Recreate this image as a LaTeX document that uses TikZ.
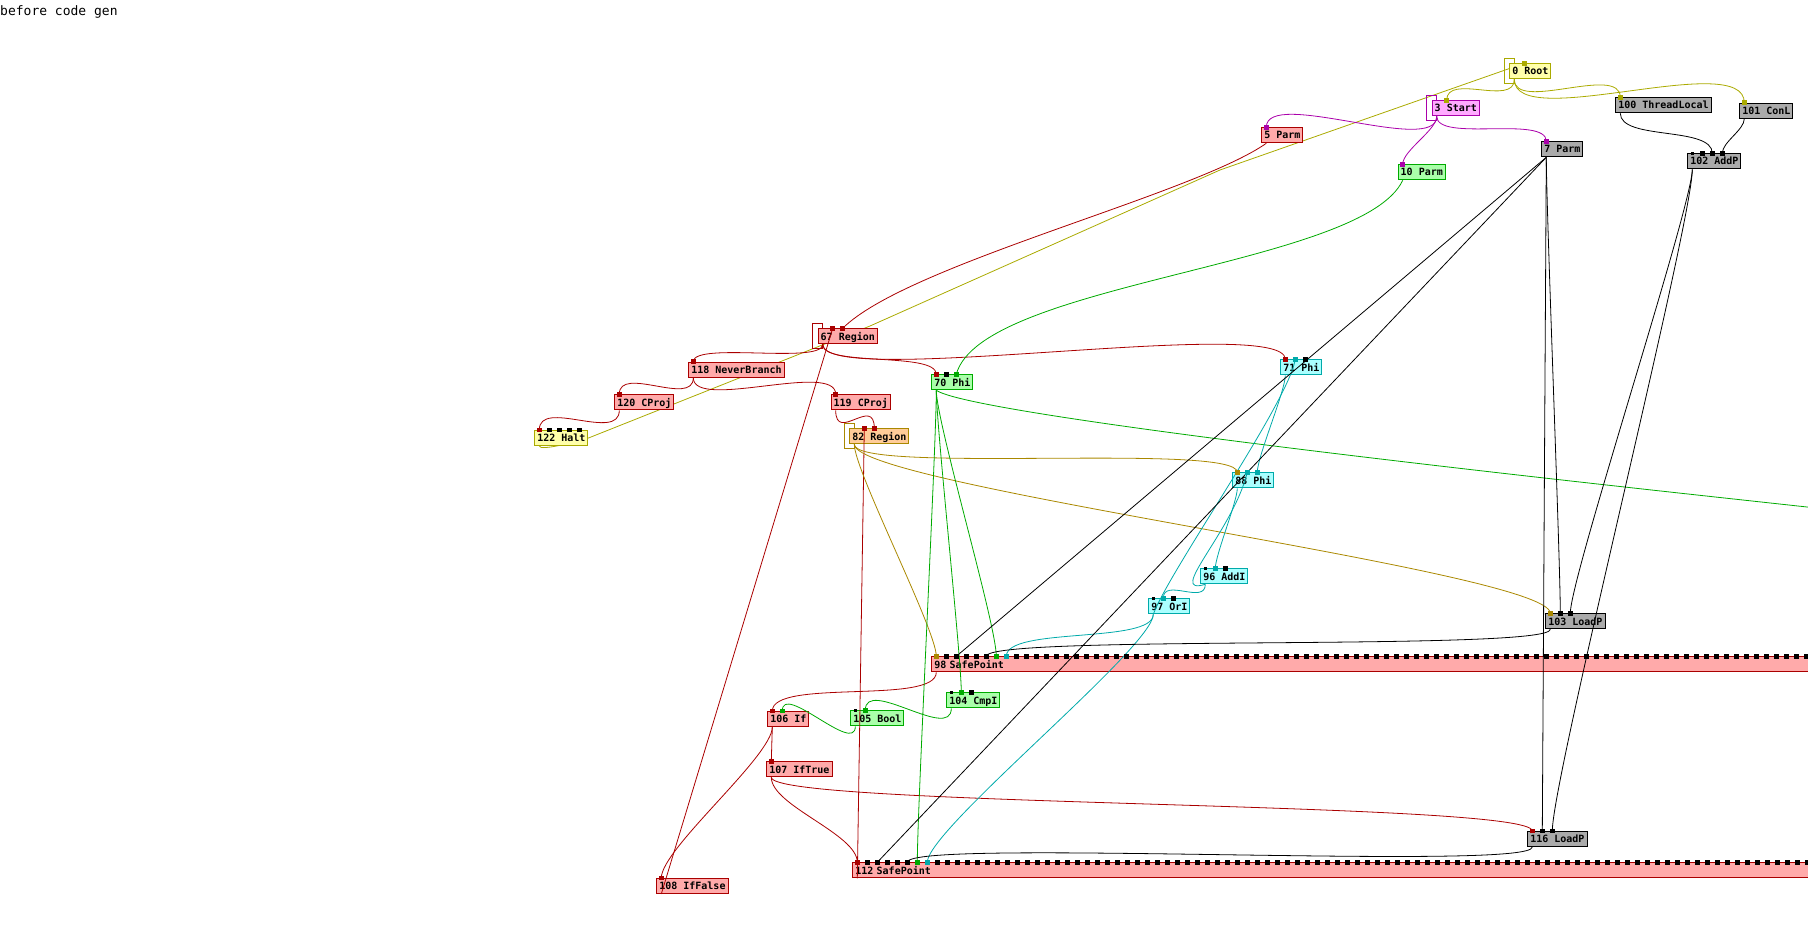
\documentclass[tikz,border=0pt]{standalone}
\usepackage{fontspec}
\newfontfamily\graphfont{DejaVu Sans Mono}
\pgfdeclarelayer{back}
\pgfsetlayers{back,main}
\definecolor{ctrlred}{RGB}{170,0,0}
\definecolor{ctrlfill}{RGB}{255,170,170}
\definecolor{datagreen}{RGB}{0,170,0}
\definecolor{greenfill}{RGB}{170,255,170}
\definecolor{datacyan}{RGB}{0,170,170}
\definecolor{cyanfill}{RGB}{170,255,255}
\definecolor{rootolive}{RGB}{170,170,0}
\definecolor{yellowfill}{RGB}{255,255,170}
\definecolor{startpurple}{RGB}{170,0,170}
\definecolor{purplefill}{RGB}{255,170,255}
\definecolor{regiongold}{RGB}{170,136,0}
\definecolor{orangefill}{RGB}{255,204,153}
\definecolor{memgray}{RGB}{170,170,170}
\begin{document}
\begin{tikzpicture}[x=1pt, y=1pt,
  box/.style={draw, line width=1pt, anchor=north west, minimum height=15pt,
    inner xsep=2.5pt, inner ysep=0pt, text height=9pt, text depth=1.6pt,
    font=\graphfont\bfseries\fontsize{10}{12}\selectfont},
  pinkbox/.style={box, draw=ctrlred, fill=ctrlfill},
  greenbox/.style={box, draw=datagreen, fill=greenfill},
  cyanbox/.style={box, draw=datacyan, fill=cyanfill},
  yellowbox/.style={box, draw=rootolive, fill=yellowfill},
  magentabox/.style={box, draw=startpurple, fill=purplefill},
  orangebox/.style={box, draw=regiongold, fill=orangefill},
  graybox/.style={box, draw=black, fill=memgray},
  wide/.style={text width=1000pt, align=left},
  wire/.style={line width=0.8pt},
  redline/.style={wire, ctrlred},
  greenline/.style={wire, datagreen},
  cyanline/.style={wire, datacyan},
  oliveline/.style={wire, rootolive},
  purpleline/.style={wire, startpurple},
  goldline/.style={wire, regiongold},
  blackline/.style={wire, black},
  drop/.style={out=-90, in=90, looseness=#1}, drop/.default=1]
\useasboundingbox (0,0) rectangle (1808,-936);
\clip (0,0) rectangle (1808,-936);

\node[anchor=north west, inner sep=0pt, font=\graphfont\fontsize{13}{15}\selectfont] (title) at (0,-5.8) {before code gen};

\node[yellowbox] (n0) at (1509.3,-63.3) {0 Root};
\node[magentabox] (n3) at (1431.7,-100.3) {3 Start};
\node[pinkbox] (n5) at (1261.3,-127.3) {5 Parm};
\node[graybox] (n7) at (1541.3,-141.3) {7 Parm};
\node[greenbox] (n10) at (1397.7,-164.3) {10 Parm};
\node[graybox] (n100) at (1615.3,-97.3) {100 ThreadLocal};
\node[graybox] (n101) at (1739.3,-102.7) {101 ConL};
\node[graybox] (n102) at (1687.3,-153.3) {102 AddP};
\node[pinkbox] (n67) at (817.7,-328.3) {67 Region};
\node[pinkbox] (n118) at (688.3,-361.7) {118 NeverBranch};
\node[pinkbox] (n120) at (614.3,-394.3) {120 CProj};
\node[pinkbox] (n119) at (830.7,-394.3) {119 CProj};
\node[yellowbox] (n122) at (534.3,-430) {122 Halt};
\node[orangebox] (n82) at (849.3,-428.3) {82 Region};
\node[greenbox] (n70) at (931.3,-374.3) {70 Phi};
\node[cyanbox] (n71) at (1280.3,-359.3) {71 Phi};
\node[cyanbox] (n88) at (1232.3,-472.3) {88 Phi};
\node[cyanbox] (n96) at (1200.3,-568.3) {96 AddI};
\node[cyanbox] (n97) at (1148.3,-598.3) {97 OrI};
\node[graybox] (n103) at (1545.3,-613.3) {103 LoadP};
\node[pinkbox, wide] (n98) at (931.3,-656.3) {98 SafePoint};
\node[greenbox] (n104) at (946.3,-692.3) {104 CmpI};
\node[greenbox] (n105) at (850.3,-710.3) {105 Bool};
\node[pinkbox] (n106) at (767.3,-711) {106 If};
\node[pinkbox] (n107) at (766.3,-761.3) {107 IfTrue};
\node[graybox] (n116) at (1527.3,-831) {116 LoadP};
\node[pinkbox, wide] (n112) at (852.3,-862.3) {112 SafePoint};
\node[pinkbox] (n108) at (656.3,-878) {108 IfFalse};

\foreach \n/\k in {n0/1,n3/1,n5/0,n7/0,n10/0,n100/0,n101/0,n102/3,n67/2,n70/2,n71/2,
    n118/0,n120/0,n119/0,n122/4,n82/2,n88/2,n96/2,n97/2,n103/2,n116/2,n98/87,n112/95,
    n104/2,n105/1,n106/1,n107/0,n108/0}{
  \coordinate (\n-o) at ([xshift=5]\n.south west);
  \foreach \i in {0,...,\k}
    \coordinate (\n-\i) at ([xshift={5+10*\i}]\n.north west);
}
\coordinate (g70end) at (1830,-509.6);

\begin{pgfonlayer}{back}
\draw[oliveline] (n122-o) to[out=-90,in=200,looseness=0.3] (n122.east) -- (870,-326) -- (1220,-170) -- (n0-1);
\end{pgfonlayer}

\draw[oliveline] (n0-o) -- ++(0,-4) -| ([xshift=-5,yshift=5]n0.north west) -| (n0-0);
\draw[oliveline] (n0-o) to[drop] (n3-1);
\draw[oliveline] (n0-o) to[drop=0.8] (n100-0);
\draw[oliveline] (n0-o) to[drop=0.6] (n101-0);

\draw[purpleline] (n3-o) -- ++(0,-4) -| ([xshift=-5,yshift=5]n3.north west) -| (n3-0);
\draw[purpleline] (n3-o) to[drop=0.6] (n5-0);
\draw[purpleline] (n3-o) to[drop=0.6] (n7-0);
\draw[purpleline] (n3-o) to[drop=0.6] (n10-0);

\draw[redline] (n67-o) -- ++(0,-4) -| ([xshift=-5,yshift=5]n67.north west) -| (n67-0);
\draw[redline] (n5-o) to[out=-145,in=45,looseness=0.5] (n67-2);
\draw[redline] (n67-o) to[drop=0.4] (n118-0);
\draw[redline] (n67-o) to[drop=0.5] (n70-0);
\draw[redline] (n67-o) to[drop=0.25] (n71-0);
\draw[redline] (n108-o) -- (n67-1);
\draw[redline] (n118-o) to[drop] (n120-0);
\draw[redline] (n118-o) to[drop=0.6] (n119-0);
\draw[redline] (n120-o) to[drop] (n122-0);
\draw[redline] (n119-o) to[drop=2] (n82-2);
\draw[redline] (n112-o) -- (n82-1);
\draw[redline] (n98-o) to[drop=0.5] (n106-0);
\draw[redline] (n106-o) -- (n107-0);
\draw[redline] (n106-o) to[drop=0.4] (n108-0);
\draw[redline] (n107-o) to[drop=0.6] (n112-0);
\draw[redline] (n107-o) to[drop=0.1] (n116-0);

\draw[goldline] (n82-o) -- ++(0,-4) -| ([xshift=-5,yshift=5]n82.north west) -| (n82-0);
\draw[goldline] (n82-o) to[drop=0.2] (n88-0);
\draw[goldline] (n82-o) to[drop=0.15] (n103-0);
\draw[goldline] (n82-o) to[drop=0.3] (n98-0);

\draw[greenline] (n10-o) to[out=-115,in=75,looseness=0.5] (n70-2);
\draw[greenline] (n70-o) to[drop=0.3] (n98-6);
\draw[greenline] (n70-o) to[drop=0.3] (n104-1);
\draw[greenline] (n70-o) to[drop=0.3] (n112-6);
\draw[greenline] (n70-o) to[out=-35,in=173,looseness=0.15] (g70end);
\draw[greenline] (n104-o) to[drop] (n105-1);
\draw[greenline] (n105-o) to[drop] (n106-1);

\draw[cyanline] (n71-o) to[drop=0.4] (n88-2);
\draw[cyanline] (n96-o) to[drop=1.2] (n97-1);
\draw[cyanline] (n97-o) to[out=70,in=-100,looseness=0.4] (n71-1);
\draw[cyanline] (n96-o) .. controls +(-40,-12) and +(-15,-60) .. (n88-1);
\draw[cyanline] (n88-o) to[drop=0.4] (n96-1);
\draw[cyanline] (n97-o) to[drop=0.5] (n98-7);
\draw[cyanline] (n97-o) to[drop=0.25] (n112-7);

\draw[blackline] (n7-o) -- (n98-2);
\draw[blackline] (n7-o) -- (n112-2);
\draw[blackline] (n7-o) to[drop=0.3] (n103-1);
\draw[blackline] (n7-o) -- (n116-1);
\draw[blackline] (n100-o) to[drop=0.7] (n102-2);
\draw[blackline] (n101-o) to[drop=0.7] (n102-3);
\draw[blackline] (n102-o) to[drop=0.2] (n103-2);
\draw[blackline] (n102-o) to[drop=0.2] (n116-2);
\draw[blackline] (n103-o) to[drop=0.1] (n98-5);
\draw[blackline] (n116-o) to[drop=0.1] (n112-5);

\foreach \p in {n0-1,n3-1,n100-0,n101-0}
  \fill[rootolive] (\p) +(-2.3,-2.3) rectangle +(2.3,2.3);
\foreach \p in {n5-0,n7-0,n10-0}
  \fill[startpurple] (\p) +(-2.3,-2.3) rectangle +(2.3,2.3);
\foreach \p in {n67-1,n67-2,n70-0,n71-0,n118-0,n120-0,n119-0,n122-0,n82-1,n82-2,
    n116-0,n112-0,n106-0,n107-0,n108-0}
  \fill[ctrlred] (\p) +(-2.3,-2.3) rectangle +(2.3,2.3);
\foreach \p in {n70-2,n98-6,n112-6,n104-1,n105-1,n106-1}
  \fill[datagreen] (\p) +(-2.3,-2.3) rectangle +(2.3,2.3);
\foreach \p in {n71-1,n88-1,n88-2,n96-1,n97-1,n98-7,n112-7}
  \fill[datacyan] (\p) +(-2.3,-2.3) rectangle +(2.3,2.3);
\foreach \p in {n88-0,n103-0,n98-0}
  \fill[regiongold] (\p) +(-2.3,-2.3) rectangle +(2.3,2.3);
\foreach \p in {n102-1,n102-2,n102-3,n70-1,n71-2,n122-1,n122-2,n122-3,n122-4,n96-2,n97-2,
    n103-1,n103-2,n116-1,n116-2,n104-2,n98-1,n98-2,n98-3,n98-4,n98-5,
    n112-1,n112-2,n112-3,n112-4,n112-5}
  \fill (\p) +(-2.3,-2.3) rectangle +(2.3,2.3);
\foreach \i in {8,...,87}
  \fill (n98-\i) +(-2.3,-2.3) rectangle +(2.3,2.3);
\foreach \i in {8,...,95}
  \fill (n112-\i) +(-2.3,-2.3) rectangle +(2.3,2.3);
\foreach \p in {n102-0,n96-0,n97-0,n104-0,n105-0}
  \fill (\p) +(-1.4,-1.4) rectangle +(1.4,1.4);
\end{tikzpicture}
\end{document}
